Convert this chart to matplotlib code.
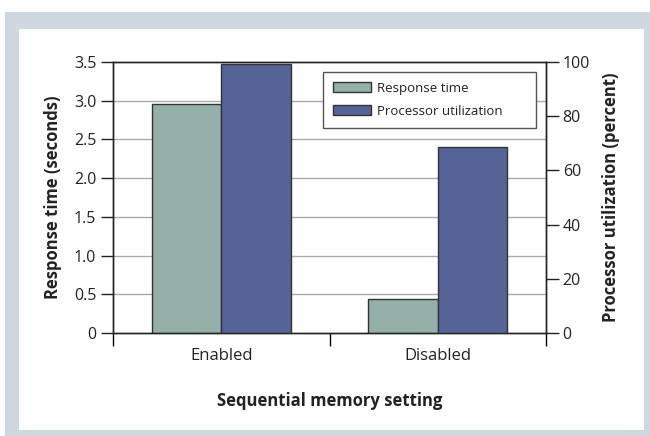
import matplotlib
matplotlib.use('Agg')
import matplotlib.pyplot as plt
from matplotlib.patches import Rectangle

# chart data
categories = ['Enabled', 'Disabled']
response_time = [2.96, 0.44]        # seconds
processor_util = [99.3, 68.6]       # percent
left_ticks = [0, 0.5, 1.0, 1.5, 2.0, 2.5, 3.0, 3.5]
left_labels = ['0', '0.5', '1.0', '1.5', '2.0', '2.5', '3.0', '3.5']
right_ticks = [0, 20, 40, 60, 80, 100]

green = '#94b0a8'
blue = '#556494'
edge = '#333333'
txt = '#222222'

plt.rcParams['font.family'] = ['Open Sans', 'DejaVu Sans']

W, H = 650, 436
fig = plt.figure(figsize=(W / 100, H / 100), dpi=100)
fig.patch.set_facecolor('white')

# light gray frame and white panel
fig.patches.append(Rectangle((5 / W, 0), (W - 5) / W, (H - 12) / H,
                             transform=fig.transFigure, facecolor='#cdd8e0',
                             edgecolor='none', zorder=-10))
fig.patches.append(Rectangle((19 / W, 6 / H), (644 - 19) / W, (430 - 29) / H,
                             transform=fig.transFigure, facecolor='white',
                             edgecolor='none', zorder=-9))

ax = fig.add_axes([113 / W, (H - 333) / H, (546 - 113) / W, (333 - 62) / H])
ax.set_facecolor('none')
ax2 = ax.twinx()

x = [0, 1]
w = 0.32
ax.bar([i - w / 2 for i in x], response_time, width=w, color=green,
       edgecolor=edge, linewidth=1, zorder=3, label='Response time')
ax2.bar([i + w / 2 for i in x], processor_util, width=w, color=blue,
        edgecolor=edge, linewidth=1, zorder=3, label='Processor utilization')

ax.set_xlim(-0.5, 1.5)
ax.set_ylim(0, 3.5)
ax2.set_ylim(0, 100)

# gridlines at left axis ticks
for t in left_ticks[1:-1]:
    ax.axhline(t, color='#aaaaaa', linewidth=1, zorder=1)

ax.set_yticks(left_ticks)
ax.set_yticklabels(left_labels)
ax2.set_yticks(right_ticks)

ax.set_xticks(x)
ax.set_xticklabels(categories)
ax.set_xticks([-0.5, 0.5, 1.5], minor=True)
ax.tick_params(axis='x', which='major', length=0, pad=11, labelsize=12, colors=txt)
ax.tick_params(axis='x', which='minor', length=9, width=1, direction='out')
ax.tick_params(axis='y', length=9, width=1, labelsize=11.5, colors=txt, pad=3)
ax2.tick_params(axis='y', length=9, width=1, labelsize=11.5, colors=txt, pad=3)

for a in (ax, ax2):
    for s in a.spines.values():
        s.set_color(txt)
        s.set_linewidth(1)

ax.set_xlabel('Sequential memory setting', fontsize=12, fontweight='bold', color=txt)
ax.xaxis.set_label_coords(0.5, -0.218)
ax.set_ylabel('Response time (seconds)', fontsize=12, fontweight='bold', color=txt)
ax.yaxis.set_label_coords(-0.118, 0.5)
ax2.set_ylabel('Processor utilization (percent)', fontsize=12,
               fontweight='bold', color=txt)
ax2.yaxis.set_label_coords(1.129, 0.5)

h1, l1 = ax.get_legend_handles_labels()
h2, l2 = ax2.get_legend_handles_labels()
leg = ax2.legend(h1 + h2, l1 + l2, loc='upper left', mode='expand',
                 bbox_to_anchor=(0.485, 0.760, 0.492, 0.203), fancybox=False,
                 edgecolor='#555555', framealpha=1, fontsize=9.5,
                 handlelength=2.9, handleheight=0.8, borderpad=0.75,
                 labelspacing=0.75, handletextpad=0.45, borderaxespad=0)
leg.get_frame().set_linewidth(1)
for t in leg.get_texts():
    t.set_color(txt)

fig.savefig('out.png', dpi=100)
